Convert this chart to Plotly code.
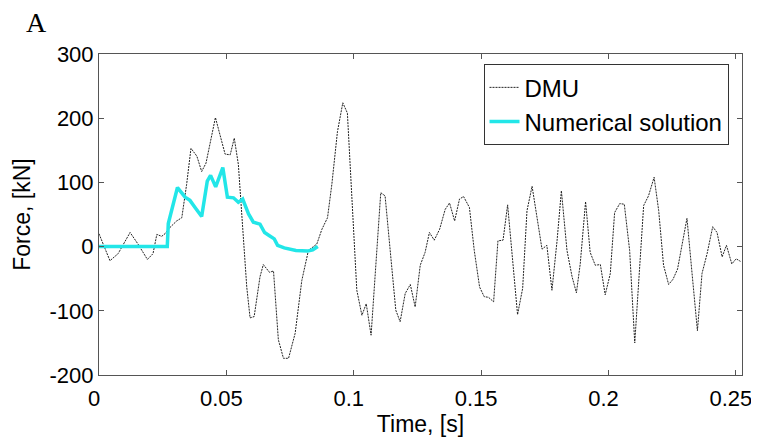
import plotly.graph_objects as go

# DMU measured force (time in s, force in kN)
dmu_t = [0.0, 0.0043, 0.0075, 0.0122, 0.0153, 0.0190, 0.0212, 0.0227, 0.0246, 0.0259,
         0.0279, 0.0305, 0.0325, 0.0344, 0.0361, 0.0384, 0.0403, 0.0420, 0.0457, 0.0495,
         0.0515, 0.0531, 0.0547, 0.0566, 0.0580, 0.0593, 0.0609, 0.0632, 0.0645, 0.0669,
         0.0685, 0.0704, 0.0724, 0.0744, 0.0770, 0.0796, 0.0822, 0.0855, 0.0875, 0.0897,
         0.0914, 0.0936, 0.0957, 0.0975, 0.0993, 0.1012, 0.1032, 0.1049, 0.1068, 0.1091,
         0.1106, 0.1123, 0.1143, 0.1165, 0.1182, 0.1202, 0.1222, 0.1241, 0.1261, 0.1280,
         0.1297, 0.1316, 0.1337, 0.1359, 0.1376, 0.1396, 0.1415, 0.1431, 0.1454, 0.1473,
         0.1494, 0.1512, 0.1529, 0.1549, 0.1566, 0.1586, 0.1604, 0.1623, 0.1643, 0.1663,
         0.1680, 0.1700, 0.1719, 0.1739, 0.1758, 0.1778, 0.1798, 0.1815, 0.1837, 0.1857,
         0.1874, 0.1889, 0.1910, 0.1928, 0.1948, 0.1968, 0.1987, 0.2007, 0.2024, 0.2044,
         0.2062, 0.2083, 0.2103, 0.2121, 0.2138, 0.2157, 0.2179, 0.2197, 0.2216, 0.2236,
         0.2253, 0.2271, 0.2291, 0.2308, 0.2328, 0.2349, 0.2367, 0.2387, 0.2409, 0.2426,
         0.2446, 0.2463, 0.2484, 0.2501, 0.2518]
dmu_f = [20, -22, -11, 22, 4, -20, -11, 19, 16, 20,
         30, 40, 45, 97, 153, 141, 117, 130, 201, 144,
         143, 169, 128, 20, -63, -111, -109, -47, -28, -40,
         -38, -145, -174, -174, -135, -53, -6, 4, 27, 45,
         97, 179, 224, 208, 71, -68, -107, -89, -138, -6,
         84, 79, -6, -99, -117, -73, -59, -94, -29, -9,
         22, 10, 27, 58, 68, 40, 74, 78, 61, -6,
         -63, -78, -79, -86, 9, 10, 65, -16, -106, -65,
         56, 94, 45, -4, 2, -68, 9, 87, -6, -47,
         -72, -27, 70, -9, -29, -28, -75, -42, 53, 67,
         66, -6, -150, -32, 64, 79, 108, 56, -29, -59,
         -51, -35, 9, 44, -42, -131, -42, -11, 31, 22,
         -16, 2, -27, -19, -23]

# Numerical solution
num_t = [0.0, 0.0268, 0.0272, 0.0308, 0.0338, 0.0357, 0.0377, 0.0403, 0.0425, 0.0438,
         0.0458, 0.0486, 0.0504, 0.0528, 0.0547, 0.0564, 0.0587, 0.0606, 0.0632, 0.0650,
         0.0669, 0.0688, 0.0701, 0.0727, 0.0773, 0.0819, 0.0839, 0.0859]
num_f = [0, 0, 36, 92, 77, 72, 61, 47, 102, 111,
         93, 123, 77, 76, 69, 74, 51, 38, 35, 22,
         17, 12, 2, -2, -6, -7, -5, 0]

x_ticks = [0, 0.05, 0.1, 0.15, 0.2, 0.25]
x_tick_text = ["0", "0.05", "0.1", "0.15", "0.2", "0.25"]
y_ticks = [-200, -100, 0, 100, 200, 300]
y_tick_text = ["-200", "-100", "0", "100", "200", "300"]

font_family = "Liberation Sans, Arial, sans-serif"

fig = go.Figure()
fig.add_trace(go.Scatter(
    x=dmu_t, y=dmu_f, mode="lines", name="DMU",
    line=dict(color="#222222", width=1, dash="2px,1px")))
fig.add_trace(go.Scatter(
    x=num_t, y=num_f, mode="lines", name="Numerical solution",
    line=dict(color="#22E6E8", width=3.5)))

axis_common = dict(
    showgrid=False, zeroline=False, showline=True, mirror="ticks",
    linecolor="#555555", linewidth=1, ticks="inside", ticklen=5,
    tickcolor="#555555", tickfont=dict(family=font_family, size=22, color="black"),
)

fig.update_xaxes(range=[0, 0.2524], tickvals=x_ticks, ticktext=x_tick_text,
                 ticklabelshift=-5, ticklabelstandoff=4,
                 title=dict(text="Time, [s]", font=dict(family=font_family, size=23, color="black"),
                            standoff=5),
                 automargin=False, **axis_common)
fig.update_yaxes(range=[-200, 300], tickvals=y_ticks, ticktext=y_tick_text,
                 title=dict(text="Force, [kN]", font=dict(family=font_family, size=23, color="black"),
                            standoff=12),
                 automargin=False, **axis_common)

# The page body adds an 8px offset, so the figure is 8px smaller and margins shifted.
fig.update_layout(
    width=751, height=430,
    margin=dict(l=91, r=17, t=46, b=63),
    paper_bgcolor="white", plot_bgcolor="white",
    font=dict(family=font_family, size=22, color="black"),
    legend=dict(x=0.598, y=0.968, xanchor="left", yanchor="top",
                bgcolor="white", bordercolor="#333333", borderwidth=1,
                font=dict(family=font_family, size=24, color="black"),
                tracegroupgap=0),
)
fig.add_annotation(text="A", xref="paper", yref="paper",
                   x=-(99 - 24) / 643, y=1 + (54 - 5) / 321,
                   xanchor="left", yanchor="top", showarrow=False,
                   font=dict(family="Liberation Serif, Times New Roman, serif", size=28, color="black"))

fig.write_html("out.html")
